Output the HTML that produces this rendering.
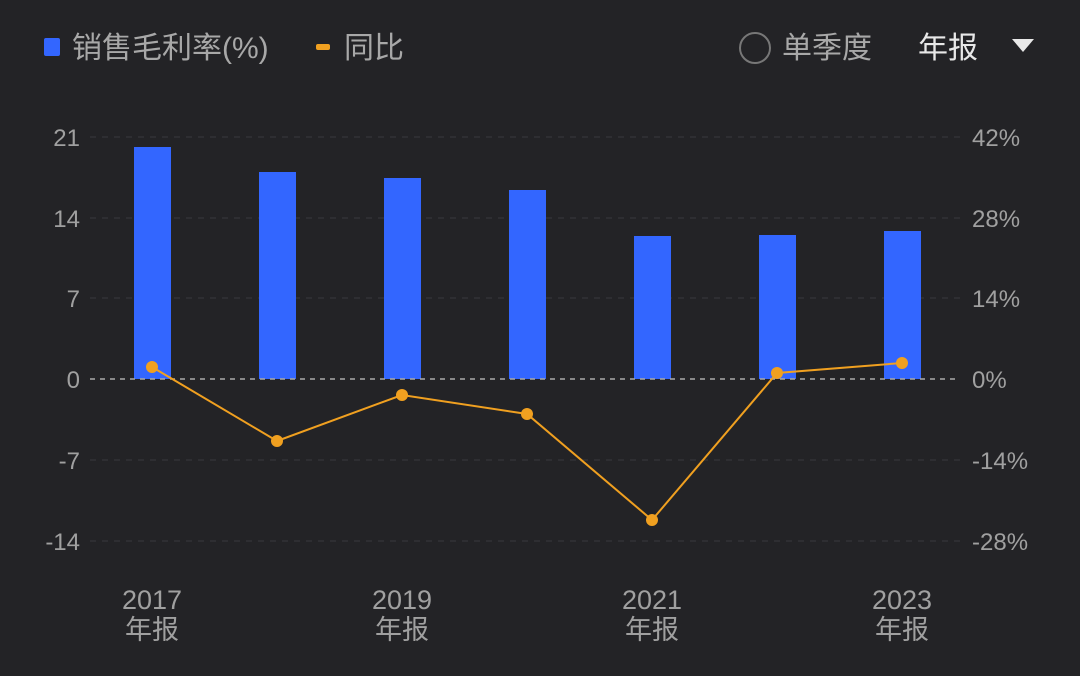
<!DOCTYPE html>
<html><head><meta charset="utf-8"><style>
body{margin:0;background:#232326;}
svg{display:block;font-family:"Liberation Sans","Noto Sans CJK SC",sans-serif;}
</style></head><body>
<svg width="1080" height="676" viewBox="0 0 1080 676">
<rect width="1080" height="676" fill="#232326"/>
<rect x="44" y="38" width="16" height="18" rx="2" fill="#3366ff"/>
<text x="72" y="58" font-size="30" fill="#a8a8a8">销售毛利率(%)</text>
<rect x="316" y="44" width="14" height="6" rx="2" fill="#f0a020"/>
<text x="344" y="58" font-size="30" fill="#a8a8a8">同比</text>
<circle cx="755" cy="48" r="15" fill="none" stroke="#777" stroke-width="2"/>
<text x="782" y="58" font-size="30" fill="#a8a8a8">单季度</text>
<text x="918" y="58" font-size="30" fill="#e8e8e8">年报</text>
<polygon points="1012,39 1034,39 1023,52" fill="#e8e8e8"/>
<g stroke="#3a3a3d" stroke-width="1" stroke-dasharray="6,6">
<line x1="90" y1="137" x2="960" y2="137"/><line x1="90" y1="218" x2="960" y2="218"/>
<line x1="90" y1="298" x2="960" y2="298"/><line x1="90" y1="460" x2="960" y2="460"/>
<line x1="90" y1="541" x2="960" y2="541"/>
</g>
<g font-size="24" fill="#a0a0a0">
<text x="80" y="146" text-anchor="end">21</text><text x="80" y="227" text-anchor="end">14</text>
<text x="80" y="307" text-anchor="end">7</text><text x="80" y="388" text-anchor="end">0</text>
<text x="80" y="469" text-anchor="end">-7</text><text x="80" y="550" text-anchor="end">-14</text>
<text x="972" y="146">42%</text><text x="972" y="227">28%</text><text x="972" y="307">14%</text>
<text x="972" y="388">0%</text><text x="972" y="469">-14%</text><text x="972" y="550">-28%</text>
</g>
<g fill="#3366ff">
<rect x="134" y="147" width="37" height="232"/><rect x="259" y="172" width="37" height="207"/>
<rect x="384" y="178" width="37" height="201"/><rect x="509" y="190" width="37" height="189"/>
<rect x="634" y="236" width="37" height="143"/><rect x="759" y="235" width="37" height="144"/>
<rect x="884" y="231" width="37" height="148"/>
</g>
<line x1="90" y1="379" x2="960" y2="379" stroke="#aaa" stroke-width="1.5" stroke-dasharray="5,5"/>
<polyline points="152,367 277,441 402,395 527,414 652,520 777,373 902,363" fill="none" stroke="#f0a020" stroke-width="2"/>
<g fill="#f0a020">
<circle cx="152" cy="367" r="6"/><circle cx="277" cy="441" r="6"/><circle cx="402" cy="395" r="6"/>
<circle cx="527" cy="414" r="6"/><circle cx="652" cy="520" r="6"/><circle cx="777" cy="373" r="6"/>
<circle cx="902" cy="363" r="6"/>
</g>
<g font-size="27" fill="#a0a0a0" text-anchor="middle">
<text x="152" y="609">2017</text><text x="152" y="639">年报</text>
<text x="402" y="609">2019</text><text x="402" y="639">年报</text>
<text x="652" y="609">2021</text><text x="652" y="639">年报</text>
<text x="902" y="609">2023</text><text x="902" y="639">年报</text>
</g>
</svg>
</body></html>
